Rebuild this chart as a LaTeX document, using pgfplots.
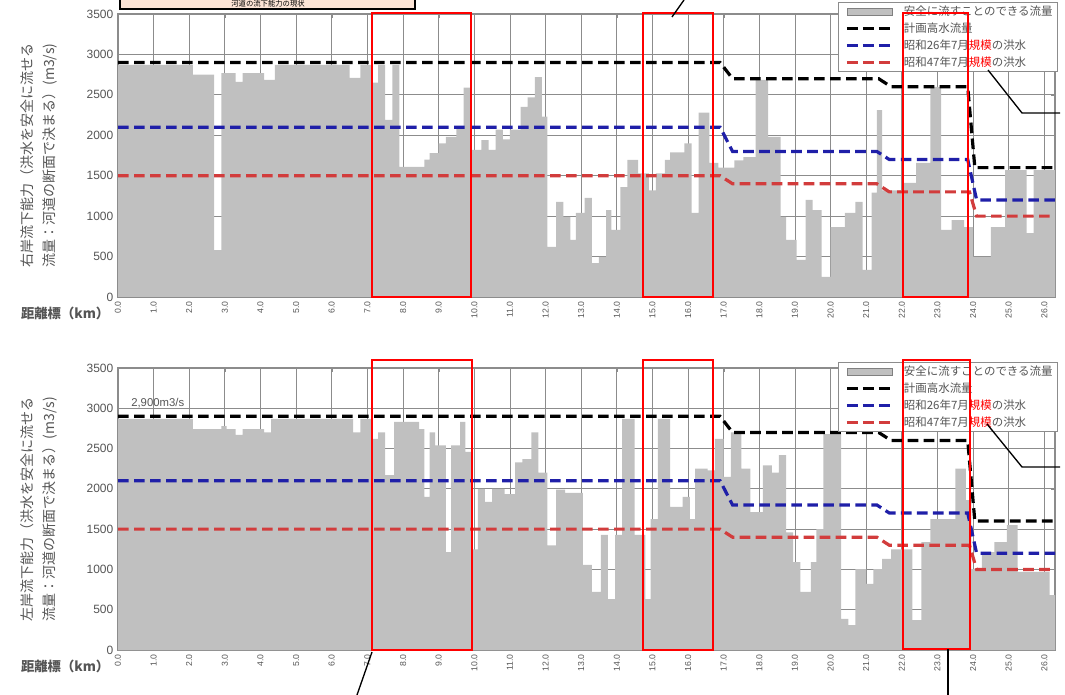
\documentclass[border=0pt]{standalone}
\usepackage{pgfplots}
\pgfplotsset{compat=1.18}
\usepackage{fontspec}
\setmainfont{Liberation Sans}
\newfontfamily\jp{Noto Sans CJK JP}
\definecolor{barc}{HTML}{C0C0C0}
\definecolor{gridc}{HTML}{8C8C8C}
\definecolor{bl}{HTML}{1F1FA8}
\definecolor{rd}{HTML}{D23C3C}
\definecolor{txt}{HTML}{555555}
\definecolor{peach}{HTML}{FCE4D6}

\pgfplotsset{
 riv/.style={
  scale only axis, width=702.75pt,
  xmin=0, xmax=26.3, ymin=0, ymax=3500,
  xtick={0,1,...,26}, ytick={0,500,...,3500},
  grid=major, grid style={gridc, line width=0.6pt},
  axis line style={gridc, line width=0.8pt},
  tick style={gridc}, major tick length=3pt,
  /pgf/number format/assume math mode=true,
  /pgf/number format/1000 sep={},
  xticklabel={\pgfmathprintnumber[fixed,fixed zerofill,precision=1]{\tick}},
  xticklabel style={rotate=90, anchor=east, font=\fontsize{6.5}{6.5}\selectfont, text=txt},
  yticklabel style={font=\fontsize{9}{9}\selectfont, text=txt},
  ylabel style={at={(rel axis cs:0,0.5)}, anchor=center, yshift=59pt, align=center,
     font=\jp\fontsize{10.5}{16.5}\selectfont, text=txt},
  xlabel style={at={(rel axis cs:0,0)}, anchor=east, xshift=-3pt, yshift=-12pt,
     font=\jp\bfseries\fontsize{10}{10}\selectfont, text=txt},
  legend cell align=left,
  legend style={anchor=north east, draw=gridc, fill=white, line width=0.6pt,
     font=\jp\fontsize{8.6}{8.6}\selectfont, text=txt, row sep=3pt,
     nodes={inner sep=0.6pt, text height=7pt, text depth=1.5pt}},
 },
 dash/.style={line width=2.4pt, dash pattern=on 8pt off 4pt,
   legend image code/.code={\path (-2pt,0pt) (41pt,0pt); \draw[##1] (0pt,0pt) -- (34pt,0pt);}},
 barleg/.style={legend image code/.code={\path (-2pt,0pt) (41pt,0pt); \draw[draw=gray, fill=barc, line width=0.5pt] (0pt,-2.5pt) rectangle (34pt,2.5pt);}},
}

\begin{document}
\begin{tikzpicture}
\path[use as bounding box, clip] (0pt,0pt) rectangle (798.75pt,-521.25pt);

% ---------- top panel ----------
\begin{axis}[riv, at={(88.5pt,-222.75pt)}, anchor=south west, height=212.25pt,
  ylabel={右岸流下能力（洪水を安全に流せる\\流量：河道の断面で決まる）(m3/s)},
  xlabel={距離標（km）},
  legend style={at={(1.003,1.042)}}]
\addplot[const plot, fill=barc, draw=none, barleg] coordinates {
(0,2870) (2.1,2750) (2.7,580) (2.9,2770) (3.3,2660) (3.5,2770) (4.1,2685) (4.4,2870)
(6.5,2710) (6.8,2870) (7.1,2650) (7.3,2870) (7.5,2190) (7.7,2870) (7.9,1610) (8.6,1700)
(8.75,1780) (9.0,1900) (9.2,1980) (9.5,2100) (9.7,2590) (9.9,1820) (10.2,1940) (10.4,1820)
(10.6,2070) (10.8,1950) (11.0,2070) (11.3,2350) (11.5,2470) (11.7,2720) (11.9,2230) (12.05,620)
(12.3,1175) (12.5,990) (12.7,705) (12.85,1040) (13.1,1225) (13.3,420) (13.5,495) (13.7,1075)
(13.85,830) (14.1,1360) (14.3,1695) (14.6,1530) (14.9,1320) (15.1,1530) (15.35,1695) (15.5,1790)
(15.9,1900) (16.1,1040) (16.3,2280) (16.6,1660) (16.85,1600) (17.3,1690) (17.55,1730) (17.9,2685)
(18.25,1980) (18.6,990) (18.75,705) (19.05,460) (19.3,1200) (19.5,1075) (19.75,250) (20.0,865)
(20.4,1040) (20.7,1175) (20.9,335) (21.15,1290) (21.3,2310) (21.45,1320) (22.05,1410) (22.4,1660)
(22.8,2600) (23.1,830) (23.4,950) (23.75,865) (24.0,495) (24.5,865) (24.9,1570) (25.5,790)
(25.7,1570) (26.3,1570)} \closedcycle;
\addlegendentry{安全に流すことのできる流量}
\addplot[black, dash] coordinates {(0,2900) (16.9,2900) (17.25,2700) (21.35,2700) (21.7,2600) (23.85,2600) (24.05,1600) (26.3,1600)};
\addlegendentry{計画高水流量}
\addplot[bl, dash] coordinates {(0,2100) (16.9,2100) (17.25,1800) (21.3,1800) (21.65,1700) (23.85,1700) (24.1,1200) (26.3,1200)};
\addlegendentry{昭和26年7月\textcolor{red}{規模}の洪水}
\addplot[rd, dash] coordinates {(0,1500) (16.9,1500) (17.25,1400) (21.3,1400) (21.65,1300) (23.9,1300) (24.1,1000) (26.3,1000)};
\addlegendentry{昭和47年7月\textcolor{red}{規模}の洪水}
\end{axis}

% ---------- bottom panel ----------
\begin{axis}[riv, at={(88.5pt,-487.5pt)}, anchor=south west, height=211.5pt,
  ylabel={左岸流下能力（洪水を安全に流せる\\流量：河道の断面で決まる）(m3/s)},
  xlabel={距離標（km）},
  legend style={at={(1.003,1.021)}}]
\addplot[const plot, fill=barc, draw=none, barleg] coordinates {
(0,2870) (2.1,2740) (2.9,2780) (3.05,2740) (3.3,2670) (3.5,2740) (4.1,2700) (4.3,2870)
(6.6,2700) (6.8,2870) (7.1,2620) (7.3,2700) (7.5,2170) (7.75,2830) (8.45,2740) (8.6,1900)
(8.75,2700) (8.9,2540) (9.2,1215) (9.35,2540) (9.6,2830) (9.75,2460) (9.95,1250) (10.1,2000)
(10.3,1840) (10.5,2000) (10.85,1935) (11.15,2330) (11.35,2370) (11.6,2700) (11.8,2200) (12.05,1300)
(12.3,1990) (12.55,1950) (13.05,1055) (13.3,720) (13.55,1430) (13.75,630) (13.95,1430) (14.15,2870)
(14.5,1430) (14.8,630) (14.95,1625) (15.15,2870) (15.5,1775) (15.85,1900) (16.05,1625) (16.2,2250)
(16.55,2230) (16.75,2620) (17.0,2150) (17.2,2700) (17.5,2250) (17.75,1710) (18.1,2290) (18.35,2200)
(18.55,2420) (18.75,1460) (18.95,1090) (19.15,720) (19.45,1090) (19.6,1500) (19.8,2680) (20.3,385)
(20.5,310) (20.7,1005) (21.0,820) (21.2,1005) (21.45,1130) (21.7,1250) (22.3,370) (22.55,1340)
(22.8,1625) (23.5,2250) (23.8,1860) (23.95,1005) (24.25,1215) (24.6,1340) (24.95,1550) (25.25,970)
(26.15,680) (26.3,680)} \closedcycle;
\addlegendentry{安全に流すことのできる流量}
\addplot[black, dash] coordinates {(0,2900) (16.9,2900) (17.25,2700) (21.35,2700) (21.7,2600) (23.85,2600) (24.05,1600) (26.3,1600)};
\addlegendentry{計画高水流量}
\addplot[bl, dash] coordinates {(0,2100) (16.9,2100) (17.25,1800) (21.3,1800) (21.65,1700) (23.85,1700) (24.1,1200) (26.3,1200)};
\addlegendentry{昭和26年7月\textcolor{red}{規模}の洪水}
\addplot[rd, dash] coordinates {(0,1500) (16.9,1500) (17.25,1400) (21.3,1400) (21.65,1300) (23.9,1300) (24.1,1000) (26.3,1000)};
\addlegendentry{昭和47年7月\textcolor{red}{規模}の洪水}
\end{axis}

% ---------- annotations (pixel grid) ----------
\begin{scope}[x=0.75pt, y=-0.75pt]
\draw[black, line width=0.9pt, fill=peach] (120,-30) rectangle (415,9);
\node[font=\jp\fontsize{5.5}{5.5}\selectfont, inner sep=0pt] at (268,4.2) {河道の流下能力の現状};
\draw[red, line width=1.8pt] (372,13) rectangle (471,297);
\draw[red, line width=1.8pt] (643,13) rectangle (713,297);
\draw[red, line width=1.8pt] (903,13) rectangle (968,297);
\draw[red, line width=1.8pt] (372,360) rectangle (472,650);
\draw[red, line width=1.8pt] (643,360) rectangle (713,650);
\draw[red, line width=1.8pt] (903,360) rectangle (970,649);
\draw[black, line width=1pt] (684,0) -- (672,17);
\draw[black, line width=1pt] (988,70) -- (1022,113) -- (1060,113);
\draw[black, line width=1pt] (987,424) -- (1022,467) -- (1060,467);
\draw[black, line width=1pt] (372,652) -- (357,695);
\draw[black, line width=1pt] (948,649) -- (948,695);
\node[anchor=west, font=\fontsize{8.5}{8.5}\selectfont, text=txt, inner sep=0pt] at (131,403) {2,900m3/s};
\end{scope}
\end{tikzpicture}
\end{document}
